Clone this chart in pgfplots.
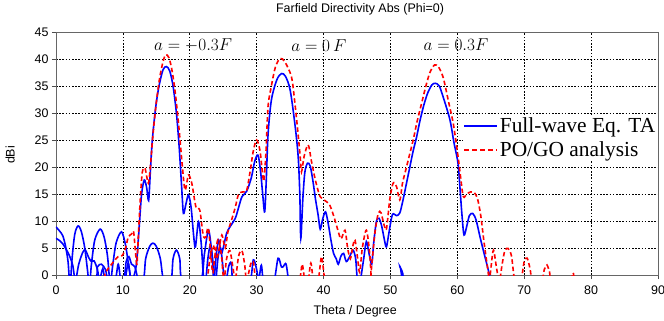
\documentclass[border=0pt]{standalone}
\usepackage{pgfplots}
\pgfplotsset{compat=1.18}
\usepackage{fontspec}
\setmainfont{Liberation Sans}
\newfontfamily\legfont{Liberation Serif}
\usetikzlibrary{calc}

\begin{document}
\begin{tikzpicture}
\begin{axis}[
  name=ax, scale only axis, width=602bp, height=243bp,
  xmin=0, xmax=90, ymin=0, ymax=45,
  xtick={0,10,...,90}, ytick={0,5,...,45},
  grid=major,
  major grid style={black, line width=0.7bp, dash pattern=on 1.6bp off 1.6bp},
  axis line style={black!60, line width=0.8bp},
  tick align=outside, tick pos=left, major tick length=4bp,
  tick style={black!70, line width=0.8bp},
  ticklabel style={font=\fontsize{12.5}{14}\selectfont},
  xticklabel style={yshift=-3bp},
  /pgf/number format/assume math mode=true,
  title={Farfield Directivity Abs (Phi=0)},
  title style={font=\fontsize{12.5}{14}\selectfont, at={(axis description cs:0.505,1.07)}, anchor=center},
  xlabel={Theta / Degree},
  xlabel style={font=\fontsize{12.5}{14}\selectfont, at={(axis description cs:0.497,-0.148)}, anchor=center},
  ylabel={dBi},
  ylabel style={font=\fontsize{12.5}{14}\selectfont, at={(axis description cs:-0.076,0.494)}, anchor=center},
  clip mode=individual,
  legend style={at={(axis description cs:0.675,0.564)}, anchor=west, draw=none, fill=white,
    inner sep=1bp, font=\fontsize{21.5}{24}\selectfont\legfont, row sep=4bp,
    nodes={inner sep=1.5bp}},
  legend cell align=left,
  bluel/.style={color=blue, line width=1.6bp, smooth, tension=0.5},
  redl/.style={color=red, line width=1.6bp, dash pattern=on 4.5bp off 2.8bp, smooth, tension=0.5},
]
\addlegendimage{legend image code/.code={\draw[draw=blue, line width=1.7bp, solid] (0bp,0bp) -- (33bp,0bp);}}
\addlegendentry{Full-wave Eq. TA}
\addlegendimage{legend image code/.code={\draw[draw=red, line width=1.8bp, dash pattern=on 5bp off 3bp] (0bp,0bp) -- (33bp,0bp);}}
\addlegendentry{PO/GO analysis}
% ---- Full-wave (blue) ----
\addplot[bluel, forget plot] coordinates {
(0,8.9) (0.5,8.2) (1.0,7.3) (1.4,5.5) (1.8,2.5) (2.1,-2) (2.4,3) (2.8,7.5) (3.3,9.1) (3.8,8) (4.3,5) (4.7,1) (5.0,-2) (5.3,2) (5.8,6.5) (6.6,8.5) (7.2,7) (7.7,3.5) (8.1,-1.5) (8.5,2) (9.0,6) (9.8,8.0) (10.4,5.5) (10.9,1.5) (11.3,-1) (11.8,0.5) (12.1,3) (12.5,10) (12.8,15) (13.2,17.6) (13.55,16.2) (13.85,13.8) (14.1,19) (14.4,25) (14.9,31) (15.4,35) (16.0,38) (16.5,38.6) (17.0,37.8) (17.5,35) (18.0,30) (18.4,24) (18.8,16) (19.05,11.4) (19.4,13) (19.8,14.8) (20.2,12.5) (20.6,7) (20.85,5.2) (21.3,9.9) (21.7,6) (22.0,0.5) (22.3,-2) (22.7,3) (23.1,5.5) (23.5,2) (23.8,-2) (24.2,3) (24.6,5) (25.0,1) (25.3,-2) (25.8,1.5) (26.2,2.2) (26.6,-1.5) (28.9,-1.5) (29.5,2.8) (30.0,1) (30.3,-1) (30.7,1.8) (31.1,-1.5) (32.5,-1.5) (33.2,3.1) (33.7,1.5) (34.0,1.6) (34.4,2) (34.9,-1.5) (36,-3) (50.8,-1.5) (51.4,1.6) (51.9,-1.5) (53,-3)
};
\addplot[bluel, forget plot] coordinates {
(0,6.8) (0.5,6.4) (1.0,5.8) (1.5,4.8) (2.0,3.6) (2.5,1.8) (2.9,-1) (3.4,2) (4.0,4.2) (4.4,4.6) (4.9,3.2) (5.3,2.5) (5.7,2.6) (6.2,1) (6.5,-1) (7.0,1.2) (7.4,-1) (8.8,-1) (9.3,2) (9.7,-1) (10.3,-1) (10.8,2.2) (11.3,-1) (13.0,-1) (13.4,3) (14.0,5.3) (14.5,5.9) (15.0,5.3) (15.6,3) (16.1,-1) (17.2,-1) (17.5,3) (18.0,4.6) (18.5,3) (18.9,-1) (21.6,-1) (22.2,4) (22.8,8.3) (23.3,4) (23.6,-1) (23.9,3) (24.3,6.5) (24.7,4) (25.0,5) (25.5,7.7) (26.0,8.9) (26.8,10.5) (27.3,12.5) (27.8,14.5) (28.5,15.5) (29.2,18) (29.7,21) (30.2,22.2) (30.6,19) (30.9,15) (31.2,11.7) (31.45,18) (31.7,26) (32.2,32.4) (33.0,36.1) (33.7,37.3) (34.3,36.8) (35.0,34.3) (35.7,28.1) (36.2,22) (36.45,15) (36.6,6.8) (36.9,14) (37.2,19) (37.6,20.7) (38.0,20.2) (38.4,17.5) (38.8,14) (39.2,11) (39.5,8.5) (39.9,10.5) (40.3,11.7) (40.7,9.5) (41.1,6.5) (41.5,4) (41.9,3) (42.2,2) (42.6,3.5) (43.0,4) (43.4,2.5) (43.9,3.4) (44.4,4.6) (44.8,3) (45.1,-1) (46,-3)
};
\addplot[bluel, forget plot] coordinates {
(0,-3) (5.6,-1) (6.2,1.5) (6.8,2) (7.4,1) (7.9,-1) (10.0,-1) (10.5,2.5) (10.9,3.4) (11.3,2) (11.8,1.5) (12.3,-1) (13,-3) (45,-3) (45.5,-1) (46.0,3) (46.4,6.2) (46.8,4) (47.2,2) (47.5,6) (47.9,9.9) (48.3,10.5) (48.7,9) (49.1,6.5) (49.4,5.2) (49.8,8) (50.3,11.2) (50.9,11) (51.4,11.5) (51.9,14) (52.4,17) (52.9,20) (53.4,23) (53.9,25.5) (54.4,28.5) (55.0,31.5) (55.6,33.8) (56.2,35.2) (56.7,35.5) (57.3,35) (58.0,32.5) (58.9,28.7) (59.5,24.5) (60.1,20.7) (60.4,16) (60.7,11) (61.0,7.4) (61.4,9) (61.8,11) (62.3,11.4) (62.8,10.2) (63.4,7) (64.0,4) (64.8,0) (65.2,-3)
};
% ---- PO/GO (red) ----
\addplot[redl, forget plot] coordinates {
(0,-3) (6.8,-1) (7.3,0.3) (8.0,1.5) (8.7,2.6) (9.3,3.4) (9.9,3.6) (10.4,5) (10.8,7) (11.3,7.6) (11.6,8) (11.9,4) (12.1,2) (12.3,7) (12.6,14) (12.9,19) (13.3,19.8) (13.8,17) (14.1,20) (14.5,26) (15.0,32) (15.5,36.5) (16.0,39.5) (16.4,40.8) (16.9,40.2) (17.4,37.5) (17.9,33) (18.4,27) (18.9,20) (19.3,15.7) (19.8,18.5) (20.3,17) (20.7,14) (21.0,12.3) (21.5,12) (22.0,7.4) (22.4,7) (22.8,8.6) (23.4,0.5) (23.7,3) (24.2,6.5) (24.7,4) (25.1,-1) (25.5,3) (26.0,4.5) (26.5,1) (26.8,-1) (27.3,3.5) (27.8,4.5) (28.2,2) (28.5,-1) (29.1,2) (29.5,2.5) (29.9,-1) (31,-3)
};
\addplot[redl, forget plot] coordinates {
(21,-3) (22.5,-1) (23.0,3) (23.5,5.5) (24.0,3) (24.4,5) (24.8,7.4) (25.3,5) (25.7,8) (26.2,10) (26.8,12.5) (27.3,15) (28.0,15.4) (28.5,15.6) (29.0,19) (29.5,23) (30.0,25) (30.5,23) (30.9,18.5) (31.1,17.6) (31.4,23) (31.7,31.2) (32.2,35) (32.8,38.5) (33.5,40.1) (34.2,39.5) (35.2,36.7) (35.7,32) (36.2,26) (36.5,22) (36.7,19.1) (37.1,22) (37.7,24.1) (38.2,21) (38.7,18) (39.1,16) (39.5,14.5) (40.2,13.8) (40.9,13) (41.5,11) (42.0,8.9) (42.6,6.7) (43.2,8.3) (43.6,5) (44.0,3) (44.4,5.5) (44.7,6.5) (45.1,3) (45.4,0.5) (45.8,5) (46.4,8.3) (46.9,4) (47.2,-1) (48,-3)
};
\addplot[redl, forget plot] coordinates {
(34,-3) (36.3,-1) (36.8,2) (37.2,-1) (37.7,-1) (38.1,2.2) (38.5,-1) (39.2,-1) (39.7,3.4) (40.2,-1) (41,-3) (46.5,-3) (47.0,-1) (47.2,1.8) (47.7,8) (48.2,11.5) (48.6,11.5) (49.0,9.5) (49.4,8.5) (49.9,14) (50.4,17) (50.9,16.4) (51.4,13.9) (51.8,17) (52.3,19.5) (52.8,22) (53.4,25) (54.0,28.5) (54.7,32) (55.3,35) (55.9,37.5) (56.6,38.9) (57.2,38.5) (57.9,36.5) (58.7,32) (59.4,28) (60.1,22) (60.5,18) (60.9,14.5) (61.4,15) (62.0,15.4) (62.5,15.3) (63.0,14.2) (63.5,11) (64.0,6) (64.5,1.5) (64.8,-1) (65.0,1) (65.4,4.6) (65.9,1) (66.3,-1) (66.7,2) (67.1,4.5) (67.6,4.9) (68.1,3.5) (68.6,-1) (69.5,-1) (70.0,2.5) (70.45,3.1) (70.9,1) (71.2,-1) (72.6,-1) (73.0,1) (73.4,1.85) (73.8,0.5) (74.1,-1) (76.8,-1) (77.3,0.4) (77.7,-1) (80,-3)
};
\node[anchor=base, font=\fontsize{18.5}{20}\selectfont] at (axis cs:20.5,41.6) {$a = -0.3F$};
\node[anchor=base, font=\fontsize{18.5}{20}\selectfont] at (axis cs:39.3,41.3) {$a = 0\,F$};
\node[anchor=base, font=\fontsize{18.5}{20}\selectfont] at (axis cs:59.8,41.6) {$a = 0.3F$};
\end{axis}
\pgfresetboundingbox
\path[use as bounding box] ($(ax.south west)+(-56bp,-45bp)$) rectangle ($(ax.north east)+(6bp,32bp)$);
\end{tikzpicture}
\end{document}
